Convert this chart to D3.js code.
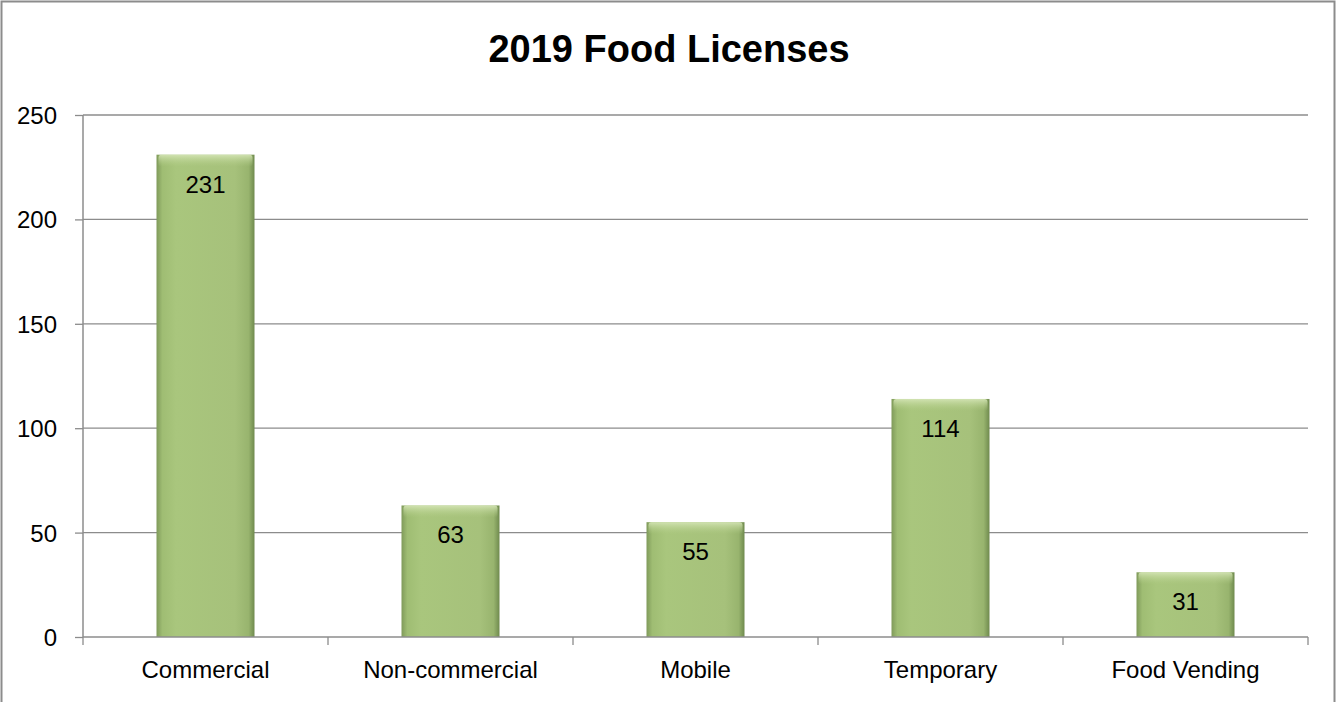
<!DOCTYPE html>
<html><head><meta charset="utf-8">
<script src="https://cdn.jsdelivr.net/npm/d3@7"></script>
<style>body{margin:0;background:#fff;}svg{display:block;}</style>
</head><body>
<svg id="c" width="1337" height="702"></svg>
<script>
const categories = ["Commercial", "Non-commercial", "Mobile", "Temporary", "Food Vending"];
const values = [231, 63, 55, 114, 31];
const yTicks = [0, 50, 100, 150, 200, 250];
const title = "2019 Food Licenses";

const svg = d3.select("#c");
const m = {left: 83, right: 1308, top: 115, bottom: 637};
const font = "'Liberation Sans', Arial, sans-serif";

// outer frame
svg.append("rect").attr("x", 1.5).attr("y", 1.5).attr("width", 1333).attr("height", 710)
  .attr("fill", "none").attr("stroke", "#8c8c8c").attr("stroke-width", 2);

const defs = svg.append("defs");
const g1 = defs.append("linearGradient").attr("id", "barG").attr("x1", "0").attr("x2", "1").attr("y1", "0").attr("y2", "0");
[[0, "#7f9a5a"], [0.06, "#9fbd73"], [0.2, "#a9c67d"], [0.8, "#a6c17b"], [0.94, "#98b46e"], [1, "#6f8a4e"]]
  .forEach(([o, c]) => g1.append("stop").attr("offset", o).attr("stop-color", c));
const g2 = defs.append("linearGradient").attr("id", "topG").attr("x1", "0").attr("x2", "0").attr("y1", "0").attr("y2", "1");
[[0, "#d6e6b8", 0.9], [1, "#b5cf8a", 0]].forEach(([o, c, op]) => g2.append("stop").attr("offset", o).attr("stop-color", c).attr("stop-opacity", op));

const x = d3.scaleBand().domain(categories).range([m.left, m.right]).padding(0);
const y = d3.scaleLinear().domain([0, 250]).range([m.bottom, m.top]);

// gridlines
svg.append("g").selectAll("line").data(yTicks.filter(d => d > 0)).join("line")
  .attr("x1", m.left).attr("x2", m.right).attr("y1", d => y(d)).attr("y2", d => y(d))
  .attr("stroke", "#8c8c8c").attr("stroke-width", 1.3);

// y axis
const ya = svg.append("g").attr("transform", `translate(${m.left},0)`)
  .call(d3.axisLeft(y).tickValues(yTicks).tickSize(8).tickPadding(18));
ya.select(".domain").attr("stroke", "#8c8c8c").attr("stroke-width", 1.5).attr("d", `M0,${m.top}V${m.bottom}`);
ya.selectAll(".tick line").attr("stroke", "#8c8c8c").attr("stroke-width", 1.3);
ya.selectAll("text").attr("font-family", font).attr("font-size", 24).attr("fill", "#000").attr("dy", "0.35em");

// bars
const bw = x.bandwidth() * 0.4;
const bars = svg.append("g").selectAll("g").data(categories).join("g");
bars.append("rect")
  .attr("x", d => x(d) + (x.bandwidth() - bw) / 2)
  .attr("y", (d, i) => y(values[i]))
  .attr("width", bw)
  .attr("height", (d, i) => y(0) - y(values[i]))
  .attr("fill", "url(#barG)");
bars.append("rect")
  .attr("x", d => x(d) + (x.bandwidth() - bw) / 2 + 2)
  .attr("y", (d, i) => y(values[i]))
  .attr("width", bw - 4)
  .attr("height", 12)
  .attr("rx", 3)
  .attr("fill", "url(#topG)");
bars.append("text")
  .attr("x", d => x(d) + x.bandwidth() / 2)
  .attr("y", (d, i) => y(values[i]) + 38)
  .attr("text-anchor", "middle")
  .attr("font-family", font).attr("font-size", 24).attr("fill", "#000")
  .text((d, i) => values[i]);

// x axis
svg.append("line").attr("x1", m.left).attr("x2", m.right).attr("y1", m.bottom).attr("y2", m.bottom)
  .attr("stroke", "#8c8c8c").attr("stroke-width", 1.5);
const bounds = categories.map(c => x(c)).concat([m.right]);
svg.append("g").selectAll("line").data(bounds).join("line")
  .attr("x1", d => d).attr("x2", d => d).attr("y1", m.bottom).attr("y2", m.bottom + 8)
  .attr("stroke", "#8c8c8c").attr("stroke-width", 1.3);
svg.append("g").selectAll("text").data(categories).join("text")
  .attr("x", d => x(d) + x.bandwidth() / 2).attr("y", 678)
  .attr("text-anchor", "middle")
  .attr("font-family", font).attr("font-size", 24).attr("fill", "#000")
  .text(d => d);

// title
svg.append("text").attr("x", 669).attr("y", 62).attr("text-anchor", "middle")
  .attr("font-family", font).attr("font-size", 38).attr("font-weight", "bold").attr("fill", "#000")
  .text(title);
</script>
</body></html>
